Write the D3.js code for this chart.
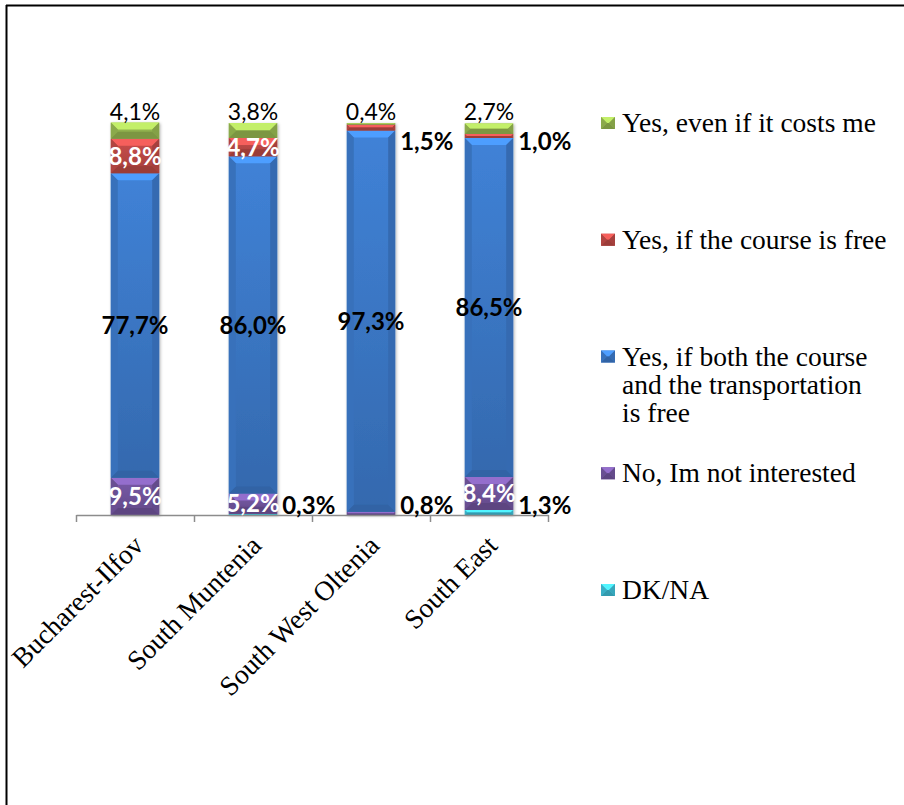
<!DOCTYPE html>
<html>
<head>
<meta charset="utf-8">
<script src="https://cdn.jsdelivr.net/npm/d3@7"></script>
<style>
  body { margin: 0; background: #fff; }
  svg { display: block; }
</style>
</head>
<body>
<div id="chart"></div>
<script>
// chart data
const categories = ["Bucharest-Ilfov", "South Muntenia", "South West Oltenia", "South East"]
const dkNa = [0, 0.3, 0, 1.3]
const notInterested = [9.5, 5.2, 0.8, 8.4]
const bothFree = [77.7, 86.0, 97.3, 86.5]
const courseFree = [8.8, 4.7, 1.5, 1.0]
const evenCosts = [4.1, 3.8, 0.4, 2.7]

// stack order, bottom to top
const seriesKeys = ["dk", "no", "both", "free", "even"]
const seriesValues = {dk: dkNa, no: notInterested, both: bothFree, free: courseFree, even: evenCosts}
const legendLines = {
    even: ["Yes, even if it costs me"],
    free: ["Yes, if the course is free"],
    both: ["Yes, if both the course", "and the transportation", "is free"],
    no: ["No, Im not interested"],
    dk: ["DK/NA"]
}
const colors = {dk: "#3fbfd8", no: "#7356a0", both: "#3d7bcc", free: "#c04a47", even: "#98ba52"}
const labelColors = {dk: "#000", no: "#fff", both: "#000", free: "#fff", even: "#000"}

const W = 904, H = 805
const svg = d3.select("#chart").append("svg")
    .attr("width", W)
    .attr("height", H)

// frame (only top and left are visible in the original)
svg.append("line").attr("x1", 6).attr("x2", W).attr("y1", 5.5).attr("y2", 5.5)
    .attr("stroke", "#000").attr("stroke-width", 2)
svg.append("line").attr("x1", 6.5).attr("x2", 6.5).attr("y1", 5).attr("y2", H)
    .attr("stroke", "#000").attr("stroke-width", 2)

const x = d3.scaleBand()
    .domain(categories)
    .range([76, 548])
    .paddingInner(0.59)
    .paddingOuter(0.295)
const y = d3.scaleLinear()
    .domain([0, 100])
    .range([515, 123])

const defs = svg.append("defs")
defs.append("filter").attr("id", "shadow")
    .attr("x", "-20%").attr("y", "-5%").attr("width", "140%").attr("height", "110%")
    .append("feDropShadow")
    .attr("dx", 1).attr("dy", 1).attr("stdDeviation", 1.5)
    .attr("flood-color", "#000").attr("flood-opacity", 0.3)

seriesKeys.forEach(k => {
    let c = d3.color(colors[k])
    let g = defs.append("linearGradient").attr("id", "grad-" + k)
        .attr("x1", 0).attr("y1", 0).attr("x2", 0).attr("y2", 1)
    g.append("stop").attr("offset", "0%").attr("stop-color", c.brighter(0.15))
    g.append("stop").attr("offset", "100%").attr("stop-color", c.darker(0.45))
})

// stacked data
const table = categories.map((cat, i) => {
    let row = {cat: cat}
    seriesKeys.forEach(k => row[k] = seriesValues[k][i])
    return row
})
const stacked = d3.stack().keys(seriesKeys)(table)

// bevelled block like the excel bars
function bevel(g, x0, x1, y0, y1, color, fill) {
    let c = d3.color(color)
    let b = Math.min(7, (y1 - y0) / 2, (x1 - x0) / 2)
    g.append("rect")
        .attr("x", x0).attr("y", y0)
        .attr("width", x1 - x0).attr("height", y1 - y0)
        .attr("fill", fill || color)
    let facets = [
        {pts: [[x0, y0], [x1, y0], [x1 - b, y0 + b], [x0 + b, y0 + b]], col: c.brighter(0.7)},
        {pts: [[x0, y1], [x1, y1], [x1 - b, y1 - b], [x0 + b, y1 - b]], col: c.darker(0.6)},
        {pts: [[x0, y0], [x0 + b, y0 + b], [x0 + b, y1 - b], [x0, y1]], col: c.darker(0.25)},
        {pts: [[x1, y0], [x1 - b, y0 + b], [x1 - b, y1 - b], [x1, y1]], col: c.darker(0.4)}
    ]
    facets.forEach(f => {
        g.append("path")
            .attr("d", "M" + f.pts.map(p => p.join(",")).join("L") + "Z")
            .attr("fill", f.col)
    })
}

const barsG = svg.append("g").attr("filter", "url(#shadow)")
stacked.forEach(layer => {
    let k = layer.key
    layer.forEach(d => {
        if (d[1] - d[0] <= 0) return
        let x0 = x(d.data.cat), x1 = x0 + x.bandwidth()
        let seg = barsG.append("g")
        bevel(seg, x0, x1, y(d[1]), y(d[0]), colors[k], "url(#grad-" + k + ")")
    })
})

// axis: ticks sit between the categories
const xEdges = d3.scaleLinear().domain([0, categories.length]).range(x.range())
const axisG = svg.append("g")
    .attr("transform", "translate(0," + y(0) + ")")
    .call(d3.axisBottom(xEdges).ticks(categories.length).tickSize(7).tickSizeOuter(0).tickFormat(""))
axisG.selectAll("path, line").attr("stroke", "#8c8c8c").attr("stroke-width", 1.5)

svg.append("g").selectAll("text")
    .data(categories)
    .enter()
    .append("text")
    .attr("transform", d => "translate(" + (x(d) + x.bandwidth() / 2 + 10) + "," + (y(0) + 32) + ") rotate(-45)")
    .attr("text-anchor", "end")
    .style("font-family", "'Liberation Serif', serif")
    .style("font-size", "27.5px")
    .attr("fill", "#000")
    .text(d => d)

// data labels
const fmt = v => v.toFixed(1).replace(".", ",") + "%"
const labelsG = svg.append("g")
stacked.forEach(layer => {
    let k = layer.key
    layer.forEach(d => {
        let v = d.data[k]
        if (!v) return
        let x0 = x(d.data.cat), x1 = x0 + x.bandwidth()
        let cy = (y(d[0]) + y(d[1])) / 2
        let t = labelsG.append("text")
            .style("font-family", "Lato, sans-serif")
            .text(fmt(v))
        if (k === "even") {
            // above the bar
            t.attr("x", (x0 + x1) / 2).attr("y", y(d[1]) - 3)
                .attr("text-anchor", "middle")
                .style("font-size", "23px")
                .attr("fill", "#000")
        } else if (v < 2) {
            // small slice: beside the bar, kept inside the plot height
            let ly = Math.min(Math.max(cy, y(100) + 18), y(0) - 10)
            t.attr("x", x1 + 5).attr("y", ly).attr("dy", "0.36em")
                .attr("text-anchor", "start")
                .style("font-size", "24px").style("font-weight", "bold")
                .attr("fill", "#000")
        } else {
            t.attr("x", (x0 + x1) / 2).attr("y", cy).attr("dy", "0.36em")
                .attr("text-anchor", "middle")
                .style("font-size", "24px").style("font-weight", "bold")
                .attr("fill", labelColors[k])
        }
    })
})

// legend, top entry first
const legendKeys = seriesKeys.slice().reverse()
const ly = d3.scalePoint().domain(legendKeys).range([123, 590])
const legend = svg.append("g")
legendKeys.forEach(k => {
    let g = legend.append("g").attr("transform", "translate(601," + ly(k) + ")")
    bevel(g, 0, 14, -6, 6, colors[k])
    let t = g.append("text")
        .attr("x", 21).attr("y", 9)
        .style("font-family", "'Liberation Serif', serif")
        .style("font-size", "27.5px")
        .attr("fill", "#000")
    legendLines[k].forEach((line, i) => {
        t.append("tspan").attr("x", 21).attr("dy", i === 0 ? 0 : 28).text(line)
    })
})
</script>
</body>
</html>
